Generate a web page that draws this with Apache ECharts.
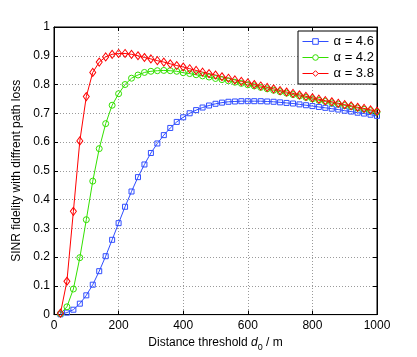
<!DOCTYPE html>
<html>
<head>
<meta charset="utf-8">
<script src="https://cdn.jsdelivr.net/npm/echarts@6/dist/echarts.min.js"></script>
<style>
html,body{margin:0;padding:0;background:#fff;}
#c{width:417px;height:357px;}
</style>
</head>
<body>
<div id="c"></div>
<script>
var distances = [20,40,60,80,100,120,140,160,180,200,220,240,260,280,300,320,340,360,380,400,
  420,440,460,480,500,520,540,560,580,600,620,640,660,680,700,720,740,760,780,800,
  820,840,860,880,900,920,940,960,980,1000];
var alpha46 = [0.001,0.007,0.017,0.038,0.067,0.104,0.151,0.203,0.260,0.318,0.375,0.428,0.478,0.522,0.562,0.595,0.624,0.649,0.670,0.686,
  0.700,0.711,0.720,0.727,0.733,0.737,0.740,0.741,0.742,0.742,0.742,0.742,0.741,0.740,0.738,0.736,0.734,0.731,0.728,0.725,
  0.722,0.719,0.716,0.713,0.709,0.706,0.702,0.699,0.695,0.691];
var alpha42 = [0.003,0.027,0.089,0.198,0.330,0.464,0.577,0.664,0.728,0.768,0.800,0.822,0.833,0.842,0.846,0.848,0.849,0.848,0.846,0.841,
  0.838,0.834,0.830,0.826,0.821,0.817,0.813,0.808,0.804,0.799,0.795,0.790,0.785,0.780,0.775,0.770,0.765,0.760,0.755,0.750,
  0.745,0.741,0.736,0.732,0.727,0.723,0.718,0.714,0.709,0.704];
var alpha38 = [0.005,0.116,0.359,0.604,0.758,0.842,0.878,0.896,0.905,0.908,0.908,0.905,0.900,0.894,0.889,0.883,0.878,0.872,0.866,0.861,
  0.855,0.849,0.843,0.838,0.833,0.827,0.822,0.816,0.811,0.806,0.800,0.795,0.790,0.785,0.779,0.774,0.769,0.764,0.759,0.754,
  0.749,0.744,0.740,0.735,0.730,0.726,0.721,0.717,0.712,0.707];
var seriesNames = ['\u03b1 = 4.6','\u03b1 = 4.2','\u03b1 = 3.8'];
var xTitle = 'Distance threshold ';
var yTitle = 'SINR fidelity with diffrent path loss';

function pairs(ys){ return distances.map(function(x,i){ return [x, ys[i]]; }); }

var FONT = 'Liberation Sans, Arial, Helvetica, sans-serif';
var COLORS = ['#2f4dff', '#33e000', '#ff0000'];
var chart = echarts.init(document.getElementById('c'), null, {renderer:'canvas'});
var tickCommon = {show:true, inside:true, length:4, lineStyle:{color:'#000', width:1}};
var option = {
  backgroundColor:'#fff',
  animation:false,
  textStyle:{fontFamily:FONT},
  grid:{left:54, right:40, top:27, bottom:40, show:true, borderColor:'#000', borderWidth:1},
  legend:{
    show:true, orient:'vertical', left:298, top:31,
    backgroundColor:'#fff', borderColor:'#000', borderWidth:1,
    padding:[4,3,4,4], itemGap:3, itemWidth:26, itemHeight:7,
    lineStyle:{width:1},
    textStyle:{fontSize:13, color:'#000', fontFamily:FONT},
    data:seriesNames.map(function(n,i){
      return {name:n, itemStyle:{color:'#fff', borderColor:COLORS[i], borderWidth:1}};
    })
  },
  xAxis:[{
    type:'value', min:0, max:1000, interval:200, position:'bottom',
    axisLine:{show:true, onZero:false, lineStyle:{color:'#000', width:1}},
    axisTick:tickCommon,
    axisLabel:{color:'#000', fontSize:12, margin:5, fontFamily:FONT, formatter:function(v){return String(v);}},
    splitLine:{show:true, lineStyle:{color:'#9a9a9a', width:1, type:[1,2]}},
    name:'{n|' + xTitle + '}{i|d}{s|0}{n| / m}',
    nameLocation:'middle', nameGap:15,
    nameTextStyle:{rich:{
      n:{fontSize:12, color:'#000', fontFamily:FONT},
      i:{fontSize:12, color:'#000', fontStyle:'italic', fontFamily:FONT},
      s:{fontSize:9, color:'#000', fontFamily:FONT, padding:[10,0,0,0]}
    }}
  },{
    type:'value', min:0, max:1000, interval:200, position:'top',
    axisLine:{show:true, onZero:false, lineStyle:{color:'#000', width:1}},
    axisTick:tickCommon, axisLabel:{show:false}, splitLine:{show:false}
  }],
  yAxis:[{
    type:'value', min:0, max:1, interval:0.1, position:'left',
    axisLine:{show:true, onZero:false, lineStyle:{color:'#000', width:1}},
    axisTick:tickCommon,
    axisLabel:{color:'#000', fontSize:12, margin:4, fontFamily:FONT},
    splitLine:{show:true, lineStyle:{color:'#9a9a9a', width:1, type:[1,2]}},
    name:yTitle, nameLocation:'middle', nameGap:25,
    nameTextStyle:{fontSize:12, color:'#000', fontFamily:FONT}
  },{
    type:'value', min:0, max:1, interval:0.1, position:'right',
    axisLine:{show:true, onZero:false, lineStyle:{color:'#000', width:1}},
    axisTick:tickCommon, axisLabel:{show:false}, splitLine:{show:false}
  }],
  series:[{
    name:seriesNames[0], type:'line', data:pairs(alpha46),
    symbol:'rect', symbolSize:5, showAllSymbol:true,
    lineStyle:{color:COLORS[0], width:1},
    itemStyle:{color:'rgba(255,255,255,0)', borderColor:COLORS[0], borderWidth:1}
  },{
    name:seriesNames[1], type:'line', data:pairs(alpha42),
    symbol:'circle', symbolSize:6, showAllSymbol:true,
    lineStyle:{color:COLORS[1], width:1},
    itemStyle:{color:'rgba(255,255,255,0)', borderColor:COLORS[1], borderWidth:1}
  },{
    name:seriesNames[2], type:'line', data:pairs(alpha38),
    symbol:'diamond', symbolSize:[6,8], showAllSymbol:true,
    lineStyle:{color:COLORS[2], width:1},
    itemStyle:{color:'rgba(255,255,255,0)', borderColor:COLORS[2], borderWidth:1}
  }]
};
chart.setOption(option);
</script>
</body>
</html>
